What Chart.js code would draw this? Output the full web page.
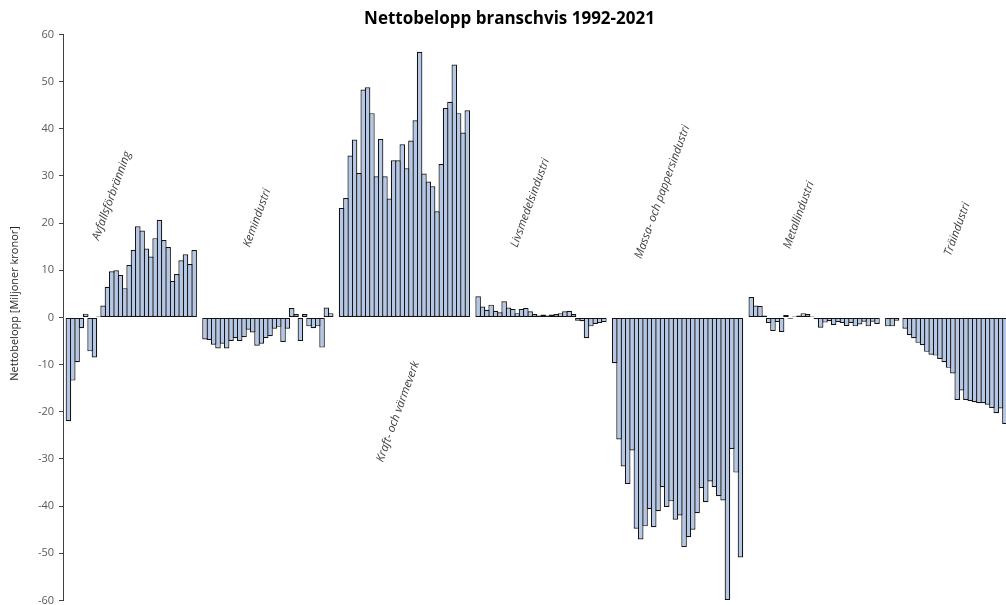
<!DOCTYPE html>
<html lang="sv">
<head>
<meta charset="utf-8">
<title>Nettobelopp branschvis 1992-2021</title>
<script src="https://cdn.jsdelivr.net/npm/chart.js@4/dist/chart.umd.min.js"></script>
<style>
  html, body { margin: 0; padding: 0; background: #fff; overflow: hidden; }
  #wrap { width: 1006px; height: 605px; overflow: hidden; }
  canvas { display: block; }
</style>
</head>
<body>
<div id="wrap"><canvas id="chart" width="1020" height="612"></canvas></div>
<script>
// === DATA ===
const years = ['1992', '1993', '1994', '1995', '1996', '1997', '1998', '1999', '2000', '2001',
               '2002', '2003', '2004', '2005', '2006', '2007', '2008', '2009', '2010', '2011',
               '2012', '2013', '2014', '2015', '2016', '2017', '2018', '2019', '2020', '2021'];

const industries = ['Avfallsförbränning', 'Kemindustri', 'Kraft- och värmeverk', 'Livsmedelsindustri',
                    'Massa- och pappersindustri', 'Metallindustri', 'Träindustri'];

// Nettobelopp per år, miljoner kronor
const avfall = [-22.0, -13.4, -9.5, -2.3, 0.8, -7.2, -8.5, 0.2, 2.5, 6.5, 9.8, 10.0, 9.0, 6.2, 11.1,
                14.3, 19.3, 18.4, 14.6, 12.9, 16.8, 20.7, 16.4, 14.9, 7.7, 9.2, 12.1, 13.4, 11.3, 14.3];
const kemi = [-4.7, -4.8, -5.8, -6.6, -5.6, -6.6, -5.0, -4.4, -5.0, -4.2, -2.6, -3.2, -6.0, -5.6, -4.4,
              -4.0, -2.4, -2.0, -5.2, -2.4, 2.0, 0.7, -5.0, 0.7, -1.9, -2.3, -1.9, -6.4, 2.1, 0.9];
const kraft = [23.2, 25.3, 34.3, 37.7, 30.6, 48.3, 48.8, 43.3, 29.9, 37.8, 29.9, 25.2, 33.3, 33.3, 36.7,
               31.6, 37.5, 41.8, 56.3, 30.5, 28.8, 27.8, 22.5, 32.5, 44.4, 45.7, 53.6, 43.3, 39.2, 43.9];
const livsmedel = [4.5, 2.3, 1.6, 2.7, 1.4, 1.1, 3.4, 2.1, 1.8, 0.9, 1.8, 2.0, 1.3, 0.7, 0.4,
                   0.6, 0.4, 0.6, 0.7, 0.9, 1.3, 1.4, 0.7, -0.7, -0.8, -4.4, -1.9, -1.4, -1.2, -1.0];
const massa = [-9.7, -25.9, -31.6, -35.3, -28.2, -44.8, -47.1, -44.3, -40.6, -44.5, -41.1, -36.0, -40.2, -39.0, -42.9,
               -42.0, -48.7, -46.6, -45.0, -41.5, -36.2, -39.2, -34.8, -36.0, -37.9, -38.8, -59.9, -27.9, -32.9, -50.9];
const metall = [4.3, 2.5, 2.4, 0.4, -1.2, -2.9, -1.0, -3.1, 0.5, -0.3, 0.2, 0.4, 0.9, 0.7, 0.2,
                -0.4, -2.2, -1.1, -0.8, -1.6, -1.0, -1.2, -1.8, -1.2, -1.9, -1.5, -0.9, -1.9, -0.9, -1.4];
const tra = [-1.9, -1.9, -0.7, -0.2, -2.4, -3.8, -4.4, -5.4, -5.9, -7.3, -7.9, -8.1, -8.8, -9.5, -10.7,
             -11.9, -17.5, -15.5, -17.5, -17.7, -18.0, -18.2, -18.2, -18.5, -19.2, -20.3, -19.3, -22.6, -21.8, -22.9];

const series = [avfall, kemi, kraft, livsmedel, massa, metall, tra];

// where each industry name sits: year slot inside the group + value on the y axis
const labelAnchors = [
    { year: 10, value: 25.8 },
    { year: 12, value: 21.1 },
    { year: 13, value: -20.0 },
    { year: 12, value: 24.3 },
    { year: 11, value: 26.6 },
    { year: 11, value: 21.7 },
    { year: 16, value: 18.7 }
];

// === PLUGIN: rotated industry names + y axis title ===
const industryLabels = {
    id: 'industryLabels',
    afterDatasetsDraw(chart) {
        const ctx = chart.ctx;
        const yScale = chart.scales.y;
        const area = chart.chartArea;

        ctx.save();
        ctx.font = 'italic 11.5px "Open Sans", sans-serif';
        ctx.fillStyle = '#404040';
        ctx.textAlign = 'center';
        ctx.textBaseline = 'middle';
        industries.forEach((name, i) => {
            const a = labelAnchors[i];
            const bar = chart.getDatasetMeta(a.year).data[i];
            ctx.save();
            ctx.translate(bar.x, yScale.getPixelForValue(a.value));
            ctx.rotate(-70 * Math.PI / 180);
            ctx.fillText(name, 0, 0);
            ctx.restore();
        });

        ctx.font = '11px "Open Sans", sans-serif';
        ctx.fillStyle = '#262626';
        ctx.translate(15, (area.top + area.bottom) / 2 - 14);
        ctx.rotate(-Math.PI / 2);
        ctx.fillText('Nettobelopp [Miljoner kronor]', 0, 0);
        ctx.restore();
    }
};

// === CHART ===
const datasets = years.map((yr, j) => ({
    label: yr,
    data: series.map(s => s[j]),
    backgroundColor: '#b4c7e7',
    borderColor: '#141414',
    borderWidth: 1.2,
    borderSkipped: false,
    inflateAmount: 0,
    categoryPercentage: 130 / 136.5,
    barPercentage: 1.277
}));

Chart.defaults.font.family = '"Open Sans", sans-serif';

new Chart(document.getElementById('chart'), {
    type: 'bar',
    data: { labels: industries, datasets: datasets },
    options: {
        responsive: false,
        animation: false,
        layout: { padding: { left: 0, right: 1, top: 0, bottom: 11 } },
        plugins: {
            legend: { display: false },
            tooltip: { enabled: false },
            title: {
                display: true,
                text: 'Nettobelopp branschvis 1992-2021',
                color: '#000',
                font: { size: 17, weight: 'bold' },
                padding: { top: 9, bottom: 5 }
            }
        },
        scales: {
            x: { display: false },
            y: {
                min: -60,
                max: 60,
                ticks: { stepSize: 10, color: '#595959', font: { size: 11 }, padding: 5 },
                grid: { drawOnChartArea: false, drawTicks: true, tickLength: 4, color: '#404040' },
                border: { display: true, color: '#404040', width: 1 },
                afterFit(scale) { scale.width = 63; }
            }
        }
    },
    plugins: [industryLabels]
});
</script>
</body>
</html>
